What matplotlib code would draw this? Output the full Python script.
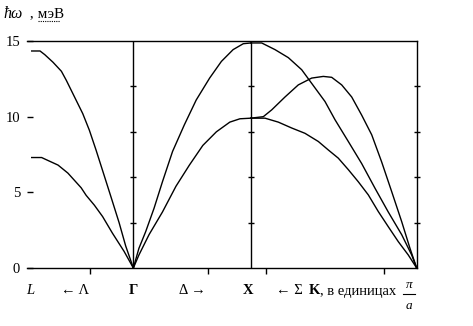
import numpy as np
import matplotlib
matplotlib.use("Agg")
import matplotlib.pyplot as plt
from matplotlib.lines import Line2D

plt.rcParams['font.family'] = ['Liberation Serif', 'DejaVu Serif']

# --- data (x in units of pi/a, Gamma = 0) ---
L_pos = -np.sqrt(3)
X_pos = 2.0
G2_pos = 2.0 + 2.0 * np.sqrt(2)

lam_la_x = [-1.732, -1.59, -1.51, -1.37, -1.226, -1.142, -1.002, -0.862, -0.749, -0.636, -0.496, -0.373, -0.243, -0.13, 0.0]
lam_la_y = [14.34, 14.34, 14.1, 13.6, 13.0, 12.4, 11.3, 10.2, 9.1, 7.8, 6.1, 4.6, 3.0, 1.45, 0.0]

lam_ta_x = [-1.732, -1.563, -1.508, -1.283, -1.115, -0.889, -0.804, -0.664, -0.524, -0.356, -0.158, 0.0]
lam_ta_y = [7.3, 7.3, 7.2, 6.8, 6.27, 5.3, 4.8, 4.15, 3.4, 2.3, 1.1, 0.0]

del_la_x = [0.0, 0.095, 0.21, 0.353, 0.496, 0.668, 0.869, 1.071, 1.30, 1.50, 1.70, 1.873, 2.0]
del_la_y = [0.0, 1.3, 2.4, 3.95, 5.7, 7.7, 9.46, 11.1, 12.55, 13.65, 14.43, 14.82, 14.87]

del_ta_x = [0.0, 0.095, 0.267, 0.496, 0.726, 0.955, 1.184, 1.415, 1.644, 1.816, 2.0]
del_ta_y = [0.0, 0.86, 2.2, 3.7, 5.4, 6.8, 8.1, 9.0, 9.64, 9.86, 9.9]

sig_la_x = [2.0, 2.187, 2.414, 2.641, 2.869, 3.039, 3.266, 3.436, 3.663, 3.891, 4.118, 4.344, 4.573, 4.743, 4.828]
sig_la_y = [14.87, 14.87, 14.43, 13.9, 13.1, 12.2, 11.0, 9.8, 8.36, 6.9, 5.27, 3.7, 2.2, 0.86, 0.0]

sig_ta1_x = [2.0, 2.215, 2.358, 2.584, 2.811, 3.039, 3.237, 3.380, 3.550, 3.721, 3.891, 4.062, 4.232, 4.402, 4.573, 4.714, 4.828]
sig_ta1_y = [9.9, 10.0, 10.45, 11.3, 12.1, 12.55, 12.66, 12.6, 12.1, 11.3, 10.1, 8.8, 7.0, 5.05, 3.06, 1.3, 0.0]

sig_ta2_x = [2.0, 2.244, 2.47, 2.699, 2.925, 3.152, 3.322, 3.492, 3.663, 3.833, 4.004, 4.174, 4.344, 4.515, 4.685, 4.828]
sig_ta2_y = [9.9, 9.9, 9.64, 9.25, 8.9, 8.36, 7.8, 7.26, 6.5, 5.7, 4.83, 3.73, 2.73, 1.74, 0.86, 0.0]

y_ticks = [0, 5, 10, 15]
y_tick_labels = ['0', '5', '10', '15']
x_minor_ticks = [L_pos + 1, L_pos + 3, L_pos + 4, L_pos + 6]
cross_ticks = [3, 6, 9, 12]

W, H = 473, 326
fig = plt.figure(figsize=(W / 100, H / 100), dpi=100)
left_px, right_px, top_px, bot_px = 27, 416.7, 41, 268
ax = fig.add_axes([left_px / W, 1 - bot_px / H, (right_px - left_px) / W, (bot_px - top_px) / H])

lw = 1.0
for xs, ys in [(lam_la_x, lam_la_y), (lam_ta_x, lam_ta_y), (del_la_x, del_la_y),
               (del_ta_x, del_ta_y), (sig_la_x, sig_la_y), (sig_ta1_x, sig_ta1_y),
               (sig_ta2_x, sig_ta2_y)]:
    ax.plot(xs, ys, color='black', lw=lw, solid_joinstyle='round')

ax.set_xlim(L_pos - 4.7 / 58.7, G2_pos)
ax.set_ylim(0, 15)

for xv in [0.0, X_pos]:
    ax.axvline(xv, color='black', lw=lw)
for xv in [0.0, X_pos, G2_pos]:
    ax.plot([xv] * len(cross_ticks), cross_ticks, ls='none', marker='_', ms=5,
            mew=1.0, color='black', clip_on=False)

ax.spines['left'].set_visible(False)
for s in ['top', 'bottom', 'right']:
    ax.spines[s].set_linewidth(lw)
    ax.spines[s].set_color('black')

ax.set_yticks(y_ticks)
ax.set_yticklabels(y_tick_labels)
ax.tick_params(axis='y', direction='in', length=4, width=1, pad=5, labelsize=10.5)
ax.set_xticks(x_minor_ticks)
ax.set_xticklabels([])
ax.tick_params(axis='x', direction='out', length=4, width=1)

def ftext(xp, yp, s, **kw):
    fig.text(xp / W, 1 - yp / H, s, va='center', **kw)

fs = 10.5
ly = 291
ftext(30, ly, 'L', style='italic', ha='center', fontsize=fs)
ftext(75, ly, '← Λ', ha='center', fontsize=fs)
ftext(133, ly, 'Γ', ha='center', fontsize=fs, weight='bold')
ftext(192, ly, 'Δ →', ha='center', fontsize=fs)
ftext(248, ly, 'X', ha='center', fontsize=fs, weight='bold')
ftext(289, ly, '← Σ', ha='center', fontsize=fs)
ftext(309, ly, 'K', ha='left', fontsize=fs, weight='bold')
ftext(319.5, ly, ', в единицах', ha='left', fontsize=fs)
ftext(409, 285, 'π', ha='center', fontsize=9.5, style='italic')
ftext(409, 306, 'a', ha='center', fontsize=9.5, style='italic')
fig.add_artist(Line2D([403 / W, 415 / W], [1 - 294 / H, 1 - 294 / H], color='black', lw=0.8))

ftext(3, 14, 'ħω', ha='left', fontsize=11.5, style='italic')
ftext(26, 14, ' , мэВ', ha='left', fontsize=11)
fig.add_artist(Line2D([38 / W, 60 / W], [1 - 21 / H, 1 - 21 / H], color='black', lw=0.8, ls=(0, (1, 1))))

fig.savefig('out.png', dpi=100)
